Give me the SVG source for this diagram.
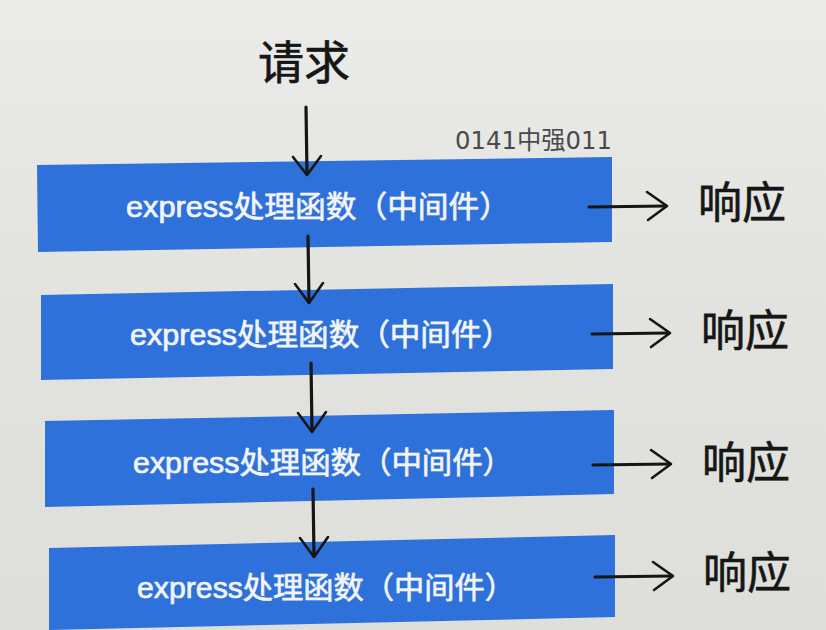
<svg xmlns="http://www.w3.org/2000/svg" width="826" height="630" viewBox="0 0 826 630">
  <defs>
    <linearGradient id="bg" x1="0" y1="0" x2="0" y2="1">
      <stop offset="0" stop-color="#ebebe9"/>
      <stop offset="0.5" stop-color="#e2e2df"/>
      <stop offset="1" stop-color="#dededa"/>
    </linearGradient>
    <style>
      .box { fill: #2e71da; }
      .lbl { font-family: "Liberation Sans", "Noto Sans CJK SC", sans-serif; font-size: 30px; fill: #f2f4f8; stroke: #f2f4f8; stroke-width: 0.7px; }
      .resp { font-family: "Noto Sans CJK SC", sans-serif; font-size: 44px; fill: #161616; stroke: #161616; stroke-width: 0.6px; }
      .shaft { fill: none; stroke: #151515; stroke-width: 3.2; stroke-linecap: round; }
      .head { fill: none; stroke: #151515; stroke-width: 2.6; stroke-linecap: round; stroke-linejoin: round; }
    </style>
  </defs>
  <rect x="0" y="0" width="826" height="630" fill="url(#bg)"/>

  <g id="request">
    <text x="258" y="79" font-family="Noto Sans CJK SC, sans-serif" font-size="46" fill="#161616" stroke="#161616" stroke-width="0.6">请求</text>
  </g>
  <g id="code">
    <text x="455" y="149" font-family="DejaVu Sans, Noto Sans CJK SC, sans-serif" font-size="25" fill="#4a4a4a" textLength="157" lengthAdjust="spacingAndGlyphs">0141中强011</text>
  </g>

  <g id="node1">
    <polygon class="box" points="37,165 612,157 612,242 38,252"/>
    <text class="lbl" x="126" y="217" textLength="384" lengthAdjust="spacingAndGlyphs">express处理函数（中间件）</text>
  </g>
  <g id="node2">
    <polygon class="box" points="41,295 613,284 613,369 41,380"/>
    <text class="lbl" x="130" y="345" textLength="382" lengthAdjust="spacingAndGlyphs">express处理函数（中间件）</text>
  </g>
  <g id="node3">
    <polygon class="box" points="45,421 614,410 614,494 45,507"/>
    <text class="lbl" x="133" y="473" textLength="380" lengthAdjust="spacingAndGlyphs">express处理函数（中间件）</text>
  </g>
  <g id="node4">
    <polygon class="box" points="49,548 615,535 615,617 49,630"/>
    <text class="lbl" x="137" y="598" textLength="378" lengthAdjust="spacingAndGlyphs">express处理函数（中间件）</text>
  </g>

  <g id="resp1"><text class="resp" x="698" y="219">响应</text></g>
  <g id="resp2"><text class="resp" x="701" y="347">响应</text></g>
  <g id="resp3"><text class="resp" x="702" y="479">响应</text></g>
  <g id="resp4"><text class="resp" x="703" y="589">响应</text></g>

  <g id="connectors">
    <path class="shaft" d="M306,107 L307,174"/>
    <path class="head" d="M293,157 L307,175 L321,156"/>
    <path class="shaft" d="M308,236 L309,302"/>
    <path class="head" d="M295,284 L309,303 L323,283"/>
    <path class="shaft" d="M311,363 L312,431"/>
    <path class="head" d="M298,413 L312,432 L326,412"/>
    <path class="shaft" d="M313,489 L314,556"/>
    <path class="head" d="M300,538 L314,557 L328,537"/>
    <path class="shaft" d="M589,207 L666,206" stroke-width="3.8"/>
    <path class="head" d="M647,192 L667,206 L648,220"/>
    <path class="shaft" d="M592,334 L669,333" stroke-width="3.8"/>
    <path class="head" d="M650,319 L670,333 L651,347"/>
    <path class="shaft" d="M593,465 L670,464" stroke-width="3.8"/>
    <path class="head" d="M651,450 L671,464 L652,478"/>
    <path class="shaft" d="M595,577 L672,576" stroke-width="3.8"/>
    <path class="head" d="M653,562 L673,576 L654,590"/>
  </g>
</svg>
